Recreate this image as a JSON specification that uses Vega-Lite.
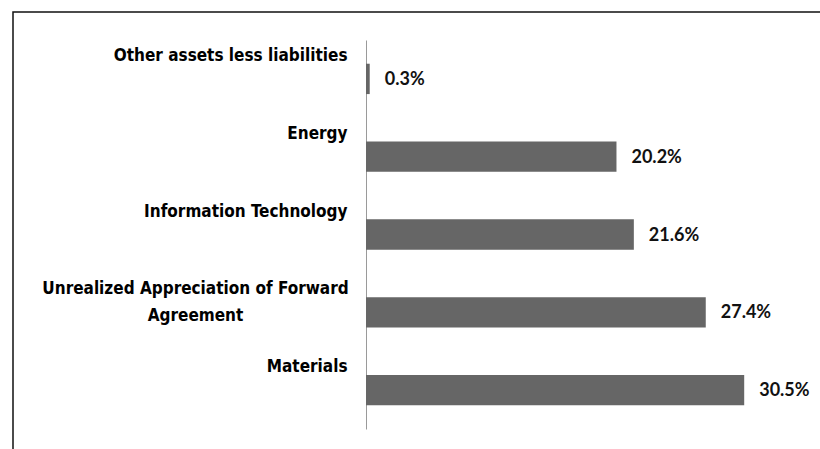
{
  "$schema": "https://vega.github.io/schema/vega-lite/v6.json",
  "autosize": {"type": "none"},
  "width": 810,
  "height": 440,
  "padding": {"left": 13, "top": 12, "right": -3, "bottom": -3},
  "background": "white",
  "config": {
    "view": {"stroke": "#111111", "strokeWidth": 1.5, "fill": "white"},
    "axis": {"labelLineHeight": 27}
  },
  "data": {
    "values": [
      {"sector": "Other assets less liabilities", "value": 0.3, "label": "0.3%"},
      {"sector": "Energy", "value": 20.2, "label": "20.2%"},
      {"sector": "Information Technology", "value": 21.6, "label": "21.6%"},
      {"sector": "Unrealized Appreciation of Forward Agreement", "value": 27.4, "label": "27.4%"},
      {"sector": "Materials", "value": 30.5, "label": "30.5%"}
    ]
  },
  "encoding": {
    "y": {
      "field": "sector",
      "type": "nominal",
      "sort": null,
      "scale": {"range": [28, 417], "paddingInner": 0.61, "paddingOuter": 0.305},
      "axis": {
        "title": null,
        "offset": -353,
        "ticks": false,
        "domain": true,
        "domainColor": "#9a9a9a",
        "domainWidth": 1,
        "labelFont": "Liberation Sans Narrow, DejaVu Sans Condensed, sans-serif",
        "labelFontWeight": "bold",
        "labelFontSize": 17,
        "labelColor": "#000000",
        "labelLimit": 500,
        "labelBaseline": "alphabetic",
        "labelOffset": -18,
        "labelAlign": {"condition": {"test": "indexof(datum.label, 'Unrealized') >= 0", "value": "center"}, "value": "right"},
        "labelPadding": {"condition": {"test": "indexof(datum.label, 'Unrealized') >= 0", "value": 171}, "value": 19},
        "labelExpr": "indexof(datum.label, 'Unrealized') >= 0 ? ['Unrealized Appreciation of Forward', 'Agreement'] : datum.label"
      }
    },
    "x": {
      "field": "value",
      "type": "quantitative",
      "scale": {"domain": [0, 35], "range": [353, 787]},
      "axis": null
    }
  },
  "layer": [
    {"mark": {"type": "bar", "color": "#666666"}},
    {
      "mark": {"type": "text", "align": "left", "baseline": "middle", "dx": 15, "dy": 1, "font": "Lato, Open Sans, sans-serif", "fontWeight": "bold", "fontSize": 18, "color": "#111111"},
      "encoding": {"text": {"field": "label"}}
    }
  ]
}
